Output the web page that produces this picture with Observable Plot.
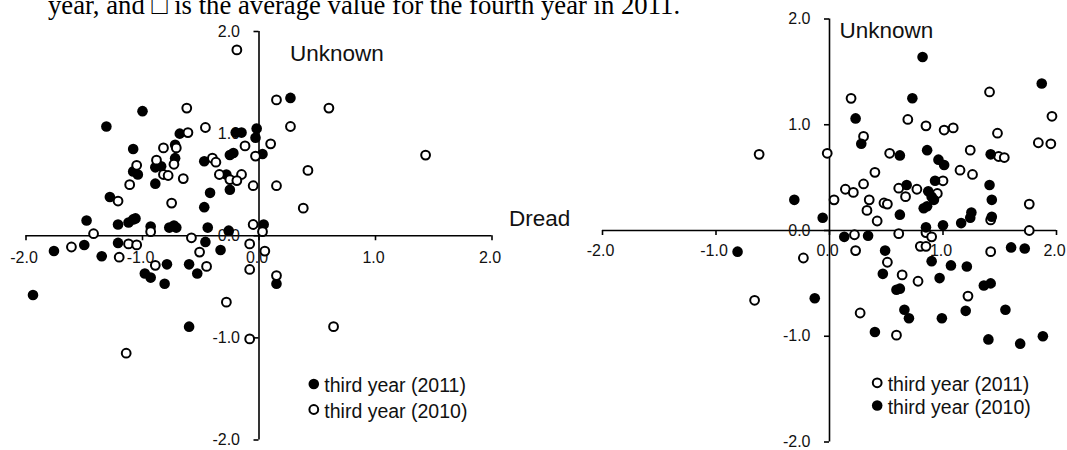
<!DOCTYPE html>
<html><head><meta charset="utf-8">
<script src="https://cdn.jsdelivr.net/npm/d3@7"></script>
<script src="https://cdn.jsdelivr.net/npm/@observablehq/plot@0.6"></script>
<style>
body{margin:0;background:#fff;}
#wrap{position:relative;width:1067px;height:450px;overflow:hidden;background:#fff;}
#cap{position:absolute;left:48px;top:-8px;font-family:"Liberation Serif","Times New Roman",serif;font-size:26.7px;line-height:26px;white-space:nowrap;color:#000;}
.layer{position:absolute;left:0;top:0;}
</style></head><body>
<div id="wrap"><div id="cap">year, and □ is the average value for the fourth year in 2011.</div></div>
<script>
const xTicks = [-2, -1, 0, 1, 2];
const yTicks = [-2, -1, 0, 1, 2];
const xTitle = "Dread";
const yTitle = "Unknown";
const legendLeft = ["third year (2011)", "third year (2010)"];
const legendRight = ["third year (2011)", "third year (2010)"];

// Left panel: filled = third year (2011), open = third year (2010)
const left2011 = [[-1.00,1.22],[-1.31,1.07],[-0.68,1.00],[-0.20,1.01],[-0.15,1.01],[-0.02,1.05],[-0.03,0.96],[-1.08,0.85],[-0.72,0.89],[0.03,0.80],[-0.25,0.79],[-0.22,0.81],[-0.72,0.76],[-0.47,0.73],[-0.89,0.67],[-0.84,0.68],[-1.08,0.63],[-1.04,0.60],[-0.28,0.60],[-0.89,0.51],[-0.25,0.45],[-0.42,0.42],[-1.28,0.38],[-0.47,0.28],[-1.48,0.15],[-1.21,0.11],[-1.12,0.13],[-1.08,0.16],[-1.06,0.17],[-0.93,0.09],[-0.77,0.08],[-0.73,0.10],[-0.71,0.08],[-0.44,0.08],[-0.26,0.05],[0.04,0.11],[0.27,1.35],[-1.76,-0.15],[-1.50,-0.09],[-1.21,-0.07],[-1.35,-0.20],[-1.94,-0.58],[-0.98,-0.37],[-0.93,-0.41],[-0.79,-0.28],[-0.81,-0.47],[-0.60,-0.28],[-0.53,-0.37],[-0.46,-0.06],[-0.33,-0.14],[0.15,-0.47],[-0.60,-0.89]];
const left2010 = [[-0.19,1.82],[0.15,1.33],[-0.62,1.25],[-0.46,1.06],[-0.61,1.01],[-0.82,0.86],[-0.71,0.86],[-0.12,0.88],[0.10,0.90],[-0.03,0.78],[-0.88,0.74],[-0.40,0.76],[-0.37,0.72],[-1.05,0.69],[-0.73,0.70],[-0.34,0.60],[-0.15,0.60],[-0.82,0.60],[-0.78,0.59],[-0.65,0.56],[-0.25,0.55],[-0.19,0.54],[-1.11,0.50],[-0.05,0.49],[0.15,0.49],[-1.21,0.34],[-0.75,0.32],[-0.05,0.11],[-1.42,0.02],[-0.93,0.04],[-0.58,-0.02],[0.03,0.04],[0.60,1.25],[0.27,1.07],[1.43,0.79],[0.42,0.64],[0.38,0.27],[-1.61,-0.11],[-1.12,-0.08],[-1.05,-0.09],[-1.20,-0.21],[-0.51,-0.16],[-0.45,-0.30],[-0.89,-0.29],[-0.08,-0.08],[0.05,-0.15],[-0.08,-0.33],[0.15,-0.39],[-0.28,-0.65],[-0.08,-1.01],[-1.14,-1.15],[0.64,-0.89]];

// Right panel: open = third year (2011), filled = third year (2010)
const right2011 = [[1.41,1.31],[0.19,1.25],[1.96,1.08],[0.69,1.05],[0.85,0.99],[1.01,0.95],[1.09,0.97],[1.48,0.92],[0.30,0.89],[1.84,0.83],[1.95,0.82],[-0.02,0.73],[0.53,0.73],[1.24,0.76],[1.49,0.70],[1.54,0.69],[1.15,0.57],[1.26,0.53],[0.40,0.55],[1.00,0.47],[0.30,0.44],[0.14,0.39],[0.21,0.36],[0.61,0.40],[0.67,0.32],[0.77,0.39],[0.95,0.35],[0.04,0.29],[0.35,0.29],[0.48,0.26],[0.51,0.25],[0.33,0.19],[0.42,0.09],[1.76,0.25],[1.42,0.10],[0.85,-0.02],[0.22,-0.04],[0.61,-0.03],[0.90,-0.06],[1.76,0.00],[0.23,-0.19],[0.80,-0.15],[0.85,-0.15],[1.42,-0.20],[0.51,-0.30],[-0.23,-0.26],[0.64,-0.42],[0.78,-0.48],[1.22,-0.62],[0.27,-0.78],[0.59,-0.99],[-0.66,-0.66],[-0.62,0.72]];
const right2010 = [[0.82,1.64],[1.87,1.39],[0.73,1.25],[0.23,1.06],[0.28,0.82],[0.62,0.71],[0.86,0.76],[0.96,0.67],[1.01,0.62],[1.42,0.72],[0.93,0.47],[0.68,0.43],[1.41,0.43],[0.87,0.37],[0.90,0.32],[0.92,0.29],[0.83,0.21],[0.86,0.23],[1.43,0.29],[0.62,0.15],[-0.06,0.12],[1.25,0.17],[1.24,0.12],[1.43,0.13],[1.00,0.05],[0.85,0.03],[1.16,0.07],[0.13,-0.06],[0.34,-0.05],[0.49,-0.19],[1.60,-0.16],[1.72,-0.17],[0.90,-0.29],[1.07,-0.33],[1.21,-0.34],[0.47,-0.41],[0.97,-0.45],[0.59,-0.56],[0.62,-0.55],[1.36,-0.52],[1.42,-0.50],[0.66,-0.75],[0.70,-0.83],[0.99,-0.83],[1.20,-0.76],[1.55,-0.75],[0.40,-0.96],[1.40,-1.03],[1.68,-1.07],[1.88,-1.00],[-0.13,-0.64],[-0.81,-0.20],[-0.31,0.29]];

const FILLED = {r: 5.3, fill: "#000"};
const OPEN = {r: 4.4, fill: "#fff", stroke: "#000", strokeWidth: 2};
const AX = {stroke: "#000", strokeWidth: 1.6};
const fmt = d => d.toFixed(1);

function panel(cfg) {
  const [xa, xb] = [xTicks[0], xTicks[xTicks.length - 1]];
  const [ya, yb] = [yTicks[0], yTicks[yTicks.length - 1]];
  const marks = [
    Plot.ruleY([0], {x1: xa, x2: xb, ...AX}),
    Plot.ruleX([0], {y1: ya, y2: yb, ...AX}),
    Plot.ruleX(xTicks, {x: d => d, y1: 0, y2: 0, insetBottom: -5, ...AX}),
    Plot.ruleY(yTicks, {y: d => d, x1: 0, x2: 0, insetLeft: -5, ...AX}),
    Plot.text(xTicks, {x: d => d, y: 0, text: fmt, dy: cfg.xLabelDy, dx: -2, fontSize: 16, fill: "#111"}),
    Plot.text(yTicks, {x: 0, y: d => d, text: fmt, textAnchor: "end", dx: -19, fontSize: 16, fill: "#111"}),
    Plot.text([yTitle], {x: 0, y: yb, text: d => d, textAnchor: "start", dx: cfg.yTitleDx, dy: cfg.yTitleDy, fontSize: 22.5, fill: "#111"})
  ];
  if (cfg.showXTitle) marks.push(Plot.text([xTitle], {x: xb, y: 0, text: d => d, textAnchor: "start", dx: 17, dy: -17, fontSize: 22.5, fill: "#111"}));
  for (const s of cfg.series) {
    marks.push(Plot.dot(s.data, {x: d => d[0], y: d => d[1], ...s.style}));
  }
  cfg.legend.forEach((lab, i) => {
    const s = cfg.series.find(t => t.label === lab && t.row === i);
    marks.push(Plot.dot([lab], {frameAnchor: "top-left", dx: cfg.legX, dy: cfg.legY + i * cfg.legStep, ...s.style}));
    marks.push(Plot.text([lab], {frameAnchor: "top-left", text: d => d, textAnchor: "start", lineAnchor: "middle", dx: cfg.legX + 10.5, dy: cfg.legY + i * cfg.legStep + 2, fontSize: 19.5, fill: "#111"}));
  });
  const svg = Plot.plot({
    width: 1067, height: 450,
    marginTop: 0, marginRight: 0, marginBottom: 0, marginLeft: 0,
    x: {domain: [xa, xb], range: cfg.xRange, axis: null},
    y: {domain: [ya, yb], range: cfg.yRange, axis: null},
    style: {background: "transparent", overflow: "visible", fontFamily: "'Liberation Sans', Arial, sans-serif"},
    marks
  });
  svg.classList.add("layer");
  return svg;
}

const wrap = document.getElementById("wrap");
wrap.appendChild(panel({
  xRange: [25.5, 491.5], yRange: [439.5, 31],
  xLabelDy: 22, yTitleDx: 31, yTitleDy: 22, showXTitle: true,
  series: [
    {data: left2011, style: FILLED, label: legendLeft[0], row: 0},
    {data: left2010, style: OPEN, label: legendLeft[1], row: 1}
  ],
  legend: legendLeft, legX: 313.3, legY: 383.5, legStep: 25.5
}));
wrap.appendChild(panel({
  xRange: [602, 1056], yRange: [441.5, 18.5],
  xLabelDy: 20, yTitleDx: 10, yTitleDy: 12, showXTitle: false,
  series: [
    {data: right2011, style: OPEN, label: legendRight[0], row: 0},
    {data: right2010, style: FILLED, label: legendRight[1], row: 1}
  ],
  legend: legendRight, legX: 876.7, legY: 382.3, legStep: 22.7
}));
</script>
</body></html>
